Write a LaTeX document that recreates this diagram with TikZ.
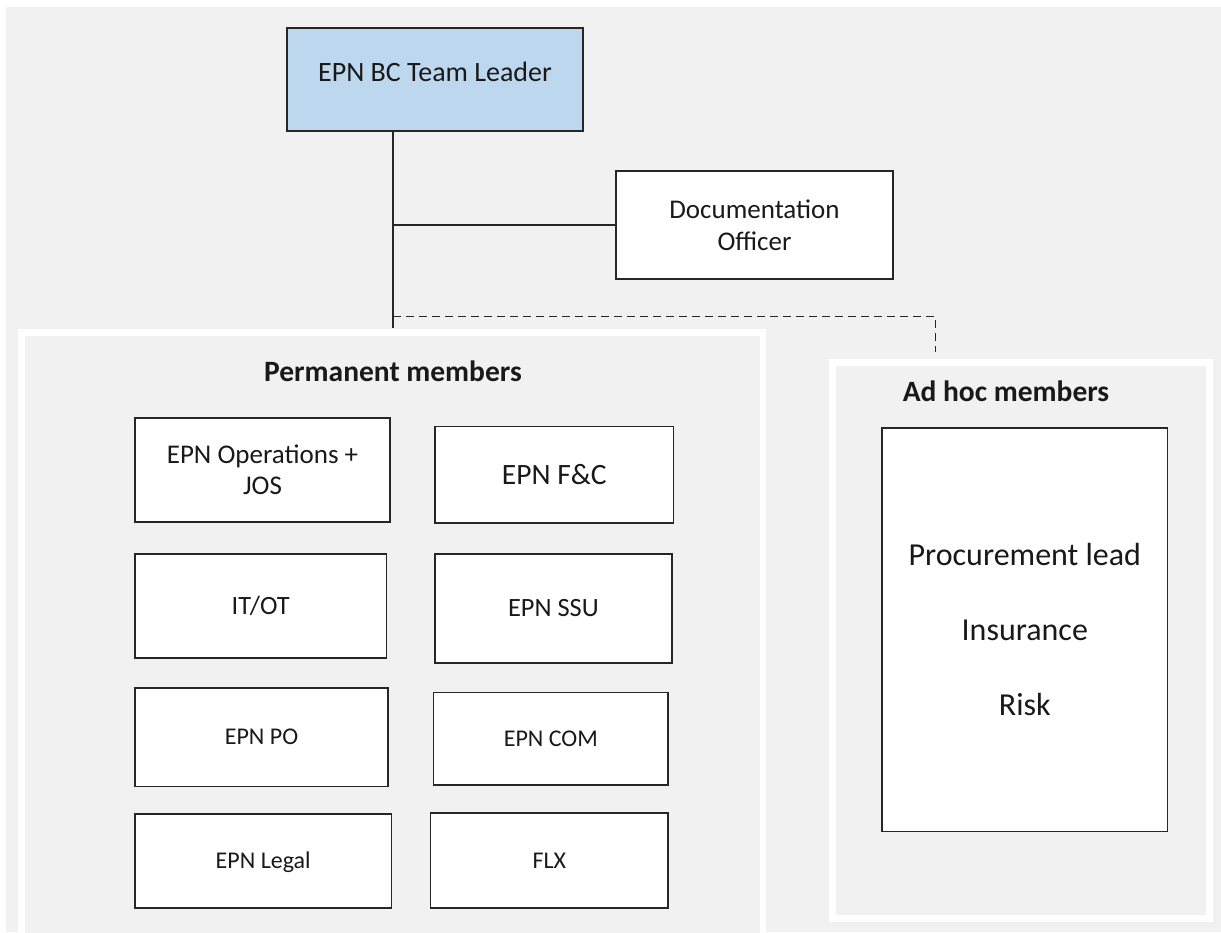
\documentclass[tikz,border=0pt]{standalone}
\usepackage{fontspec}
\setmainfont{Carlito}
\definecolor{bggray}{RGB}{241,241,241}
\definecolor{leadblue}{RGB}{189,215,238}
\definecolor{edge}{RGB}{38,38,38}
\definecolor{ink}{RGB}{25,25,25}

\begin{document}
\begin{tikzpicture}[x=1pt,y=-1pt,
  box/.style={draw=edge,line width=1.6pt,fill=white,inner sep=0pt,align=center,text=ink},
  % single line text whose box spans exactly the capitals, size given in pt
  oneline/.style={font=\fontsize{#1}{#1}\selectfont,text height={0.64*#1pt},text depth=0pt},
  panel/.style={draw=white,line width=6.5pt,fill=bggray},
  link/.style={draw=edge,line width=1.5pt},
  dashlink/.style={draw=edge,line width=1.5pt,dash pattern=on 8pt off 5pt},
  paneltitle/.style={oneline=29.5,font=\bfseries\fontsize{29.5}{34}\selectfont,text=ink,inner sep=0pt},
]
\useasboundingbox (0,0) rectangle (1221,932);
\fill[white] (0,0) rectangle (1221,932);
\fill[bggray] (6,7) rectangle (1221,932);

% group panels
\begin{scope}
  \clip (0,0) rectangle (1221,932);
  \draw[panel] (21.5,332.5) rectangle (763,950);
  \draw[panel] (832.3,362.7) rectangle (1209.5,918.3);
\end{scope}

\node[paneltitle] (ptitle) at (393,372) {Permanent members};
\node[paneltitle] (atitle) at (1006,392) {Ad hoc members};

% top of the structure
\node[box,fill=leadblue,minimum width=296pt,minimum height=103pt,
      label={[oneline=28,text=ink,yshift=7.2pt,inner sep=0pt]center:EPN BC Team Leader}]
      (lead) at (435,79.5) {};
\node[box,minimum width=277pt,minimum height=108pt,font=\fontsize{27}{31.7}\selectfont]
      (doc) at (754.5,225) {Documentation\\Officer};

% permanent members
\node[box,minimum width=255pt,minimum height=104pt,font=\fontsize{27}{31}\selectfont]
      (ops) at (262.5,470) {EPN Operations +\\JOS};
\node[box,oneline=29.5,minimum width=238.6pt,minimum height=96.3pt]
      (fc) at (554.3,474.8) {EPN F\&C};
\node[box,oneline=26.4,minimum width=251.4pt,minimum height=104pt]
      (itot) at (260.7,606) {IT/OT};
\node[box,oneline=26.4,minimum width=236.8pt,minimum height=109pt]
      (ssu) at (553.4,608.5) {EPN SSU};
\node[box,oneline=24,minimum width=253pt,minimum height=98.7pt]
      (po) at (261.5,737.3) {EPN PO};
\node[box,oneline=24,minimum width=234.4pt,minimum height=92.3pt]
      (com) at (550.8,738.8) {EPN COM};
\node[box,oneline=24,minimum width=256.4pt,minimum height=94pt]
      (legal) at (263.2,861) {EPN Legal};
\node[box,oneline=24,minimum width=237.3pt,minimum height=95pt]
      (flx) at (549.3,860.5) {FLX};

% ad hoc members
\node[box,minimum width=285.7pt,minimum height=403.7pt,font=\fontsize{32}{75}\selectfont]
      (adhoc) at (1024.8,629.8) {Procurement lead\\Insurance\\Risk};

% connectors
\coordinate (trunk) at (393,225);
\coordinate (split) at (393,316.7);
\coordinate (trunkend) at (393,328);
\coordinate (drop) at (935.3,351.7);

\draw[link] (lead.south -| trunk) -- (trunkend);
\draw[link] (trunk) -- (trunk -| doc.west);
\draw[dashlink] (split) -- (split -| drop) -- (drop);
\end{tikzpicture}
\end{document}
